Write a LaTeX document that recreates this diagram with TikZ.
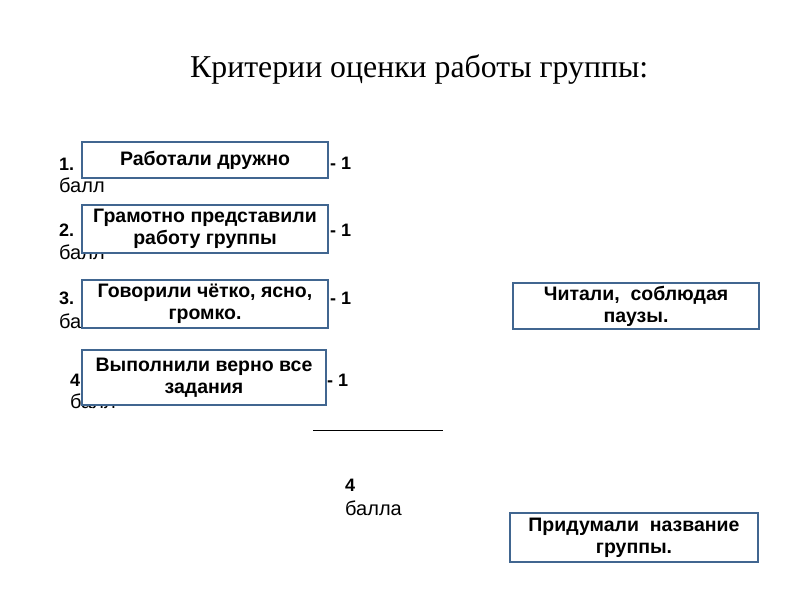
\documentclass[tikz,border=0pt]{standalone}
\usepackage{fontspec}
\setmainfont{Liberation Serif}
\setsansfont{Liberation Sans}
\definecolor{boxblue}{HTML}{416690}
\begin{document}
\begin{tikzpicture}[x=1pt,y=-1pt,
  crit/.style={draw=boxblue,line width=1.8pt,fill=white,inner sep=0pt,align=center,
    font=\sffamily\bfseries\fontsize{19.5}{22}\selectfont},
  lbl/.style={anchor=base west,inner sep=0pt,font=\sffamily\bfseries\fontsize{18}{20}\selectfont},
  lblr/.style={anchor=base west,inner sep=0pt,font=\sffamily\fontsize{20}{22}\selectfont}]
\useasboundingbox[fill=white] (0,0) rectangle (800,600);
\node[anchor=base west,inner sep=0pt,font=\fontsize{31.8}{36}\selectfont] (title) at (190,77) {Критерии оценки работы группы:};
% labels behind boxes
\node[lbl] (n1) at (59,170) {1.};
\node[lbl] (p1) at (330,169) {- 1};
\node[lblr] (b1) at (59,192) {балл};
\node[lbl] (n2) at (59,236) {2.};
\node[lbl] (p2) at (330,236) {- 1};
\node[lblr] (b2) at (59,259) {балл};
\node[lbl] (n3) at (59,304) {3.};
\node[lbl] (p3) at (330,304) {- 1};
\node[lblr] (b3) at (59,328) {балл};
\node[lbl] (n4) at (70,386) {4};
\node[lbl] (p4) at (327,386) {- 1};
\node[lblr] (b4) at (70,408) {балл};
% boxes
\node[crit,minimum width=246,minimum height=36] (c1) at (205,160) {Работали дружно};
\node[crit,minimum width=246,minimum height=48] (c2) at (205,229) {Грамотно представили\\работу группы};
\node[crit,minimum width=246,minimum height=48] (c3) at (205,304) {Говорили чётко, ясно,\\громко.};
\node[crit,minimum width=244,minimum height=55] (c4) at (204,377.5) {Выполнили верно все\\задания};
\node[crit,minimum width=246,minimum height=46] (r1) at (636,306) {Читали,\ \ соблюдая\\паузы.};
\node[crit,minimum width=248,minimum height=49] (r2) at (634,537.5) {Придумали\ \ название\\группы.};
% line and total
\coordinate (l1) at (313,430);
\coordinate (l2) at (443,430);
\draw[line width=1pt] (l1) -- (l2);
\node[lbl] (t4) at (345,491) {4};
\node[lblr] (tb) at (345,515) {балла};
\end{tikzpicture}
\end{document}
